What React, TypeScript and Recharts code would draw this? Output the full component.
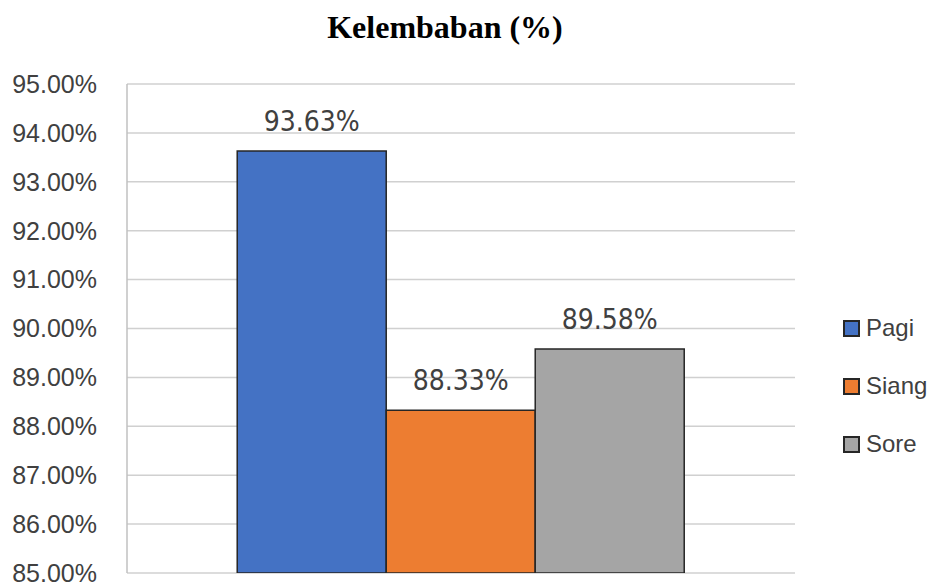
import { BarChart, Bar, XAxis, YAxis, CartesianGrid, LabelList } from "recharts";

const CATEGORIES = ["Kelembaban"];
const SERIES = ["Pagi", "Siang", "Sore"];
const VALUES = [93.63, 88.33, 89.58];
const COLORS = ["#4472C4", "#ED7D31", "#A5A5A5"];
const Y_TICKS = [85, 86, 87, 88, 89, 90, 91, 92, 93, 94, 95];

// one row per category, one key per time of day
const data = CATEGORIES.map((name) => {
    const row: Record<string, number | string> = { name };
    SERIES.forEach((s, i) => (row[s] = VALUES[i]));
    return row;
});

const pct = (v: number) => `${Number(v).toFixed(2)}%`;

export default function App() {
    return (
        <div style={{ position: "absolute", left: 0, top: 0, width: 933, height: 583, background: "#fff" }}>
            <svg width={933} height={60} style={{ position: "absolute", left: 0, top: 0 }}>
                <text x={445} y={38} textAnchor="middle" fontFamily="Liberation Serif" fontWeight="bold" fontSize={32} fill="#000">
                    Kelembaban (%)
                </text>
            </svg>
            <BarChart
                width={933}
                height={583}
                data={data}
                margin={{ top: 84, right: 138, bottom: 10, left: 0 }}
                barCategoryGap="16.5%"
                barGap={0}
            >
                <CartesianGrid vertical={false} stroke="#d0d0d0" strokeWidth={1.5} />
                <XAxis dataKey="name" tick={false} tickLine={false} height={0} axisLine={{ stroke: "#c0c0c0", strokeWidth: 1.5 }} />
                <YAxis
                    width={127}
                    domain={[85, 95]}
                    ticks={Y_TICKS}
                    interval={0}
                    allowDataOverflow
                    tickFormatter={pct}
                    tickLine={false}
                    tickSize={0}
                    tickMargin={30}
                    axisLine={{ stroke: "#c0c0c0", strokeWidth: 1.5 }}
                    tick={{ fontFamily: "Liberation Sans", fontSize: 25, fill: "#404040" }}
                />
                {SERIES.map((s, i) => (
                    <Bar key={s} dataKey={s} fill={COLORS[i]} stroke="#262626" strokeWidth={1.5} isAnimationActive={false}>
                        <LabelList
                            dataKey={s}
                            position="top"
                            offset={20}
                            formatter={(v: any) => pct(v)}
                            style={{
                                fontFamily: "'Liberation Sans Narrow', 'DejaVu Sans Condensed', 'DejaVu Sans', sans-serif",
                                fontStretch: "condensed",
                                fontSize: 28,
                                fill: "#404040",
                            }}
                        />
                    </Bar>
                ))}
            </BarChart>
            {/* legend, stacked on the right beside the plot */}
            <div style={{ position: "absolute", left: 843, top: 299, fontFamily: "Liberation Sans", fontSize: 24, color: "#404040" }}>
                {SERIES.map((s, i) => (
                    <div key={s} style={{ display: "flex", alignItems: "center", height: 58 }}>
                        <span style={{ width: 13, height: 13, background: COLORS[i], border: "2px solid #262626", marginRight: 6 }} />
                        <span>{s}</span>
                    </div>
                ))}
            </div>
        </div>
    );
}
